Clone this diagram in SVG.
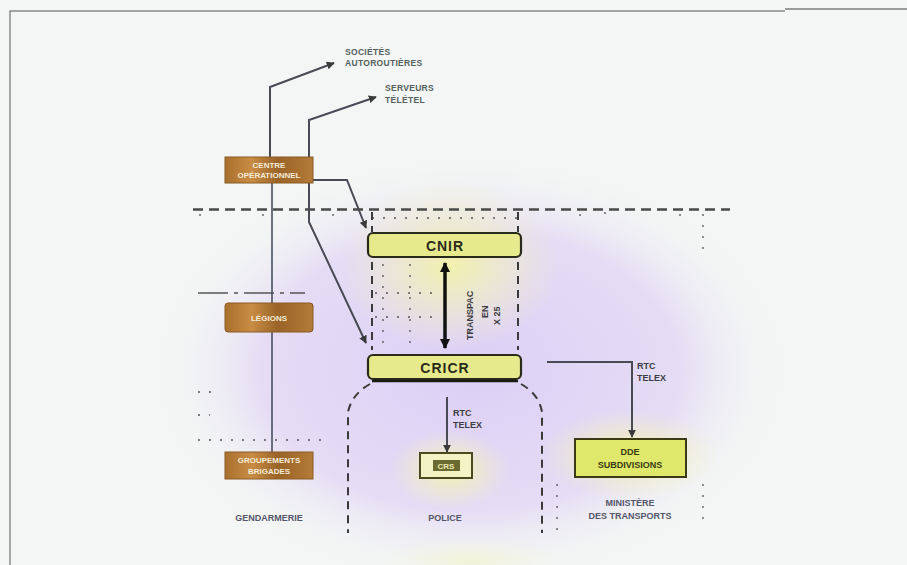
<svg xmlns="http://www.w3.org/2000/svg" width="907" height="565" viewBox="0 0 907 565">
<defs>
<radialGradient id="lav" cx="50%" cy="50%" r="50%">
<stop offset="0" stop-color="#dccff6" stop-opacity="1"/>
<stop offset="0.65" stop-color="#e3d9f5" stop-opacity="0.9"/>
<stop offset="1" stop-color="#f4f6f4" stop-opacity="0"/>
</radialGradient>
<radialGradient id="yel" cx="50%" cy="50%" r="50%">
<stop offset="0" stop-color="#f2f2a8" stop-opacity="0.95"/>
<stop offset="1" stop-color="#f4f4c0" stop-opacity="0"/>
</radialGradient>
<linearGradient id="orange" x1="0" y1="0" x2="1" y2="0">
<stop offset="0" stop-color="#a8702e"/>
<stop offset="0.3" stop-color="#c98c44"/>
<stop offset="0.6" stop-color="#9a6428"/>
<stop offset="1" stop-color="#b37a38"/>
</linearGradient>
<marker id="arr" viewBox="0 0 10 10" refX="9" refY="5" markerWidth="4" markerHeight="4" orient="auto-start-reverse">
<path d="M0,0 L10,5 L0,10 z" fill="#3a3a3a"/>
</marker>
<marker id="arrb" viewBox="0 0 10 10" refX="9" refY="5" markerWidth="3" markerHeight="3" orient="auto-start-reverse">
<path d="M0,0 L10,5 L0,10 z" fill="#111"/>
</marker>
</defs>
<style>
.lbl{font-family:"Liberation Sans",Arial,sans-serif;font-size:8.5px;font-weight:bold;fill:#556060;letter-spacing:0.3px}
.lbd{font-family:"Liberation Sans",Arial,sans-serif;font-size:9px;font-weight:bold;fill:#3c3c44}
.rl{fill:#56566a}
.otx{font-family:"Liberation Sans",Arial,sans-serif;font-size:8px;font-weight:bold;fill:#f4ecd8}
.ytx{font-family:"Liberation Sans",Arial,sans-serif;font-size:14px;font-weight:bold;fill:#2a2a1a;letter-spacing:1px}
.stx{font-family:"Liberation Sans",Arial,sans-serif;font-size:9px;font-weight:bold;fill:#3a3a10}
.obox{fill:url(#orange);stroke:#8a5a22;stroke-width:1}
.ybox{fill:#e6ea8c;stroke:#2a2a1a;stroke-width:2.2}
.ln{fill:none;stroke:#4a4a55;stroke-width:2}
.thin{fill:none;stroke:#4a5060;stroke-width:1.6}
.dash{fill:none;stroke:#4a4a4a;stroke-width:2.5;stroke-dasharray:10 6}
.bd{fill:none;stroke:#3a3a3a;stroke-width:2;stroke-dasharray:8 6}
.dot{fill:none;stroke:#555;stroke-width:1.3;stroke-dasharray:2 9}
.frame{fill:none;stroke:#8a8a8a;stroke-width:1.5}
</style>
<rect x="0" y="0" width="907" height="565" fill="#f3f6f4"/>
<ellipse cx="470" cy="370" rx="320" ry="215" fill="url(#lav)"/>
<ellipse cx="450" cy="265" rx="110" ry="85" fill="url(#yel)"/>
<ellipse cx="630" cy="455" rx="90" ry="45" fill="url(#yel)"/>
<ellipse cx="450" cy="470" rx="60" ry="40" fill="url(#yel)"/>
<ellipse cx="470" cy="560" rx="90" ry="22" fill="url(#yel)" opacity="0.4"/>

<g id="frame">
<path class="frame" d="M10,565 V11 H785"/>
<path d="M785,9 H907" stroke="#9a9a9a" stroke-width="2" fill="none"/>
</g>

<g id="boundaries">
<path class="dash" d="M193,209.5 H730"/>
<path class="dot" d="M372,218 H518"/>
<path class="bd" d="M372,212 V232 M518,212 V232"/>
<path class="bd" d="M372,262 V350 M518,262 V350"/>
<path class="dot" d="M383,264 V345 M410,264 V345 M375,293 H440 M375,317 H440"/>
<path class="dot" d="M200,214 V222 M263,214 V222 M333,214 V222 M580,214 V222 M605,212 V222 M680,214 V222 M703,214 V256"/>
<path fill="none" stroke="#555" stroke-width="1.4" stroke-dasharray="30 6 4 6" d="M198,293 H305"/>
<path class="dot" d="M198,392 H220 M198,415 H210 M198,440 H330"/>
<path class="bd" d="M370,384 Q352,394 348,412 V533"/>
<path class="bd" d="M521,384 Q539,394 542,412 V533"/>
<path class="dot" d="M557,484 V538 M703,484 V520"/>
</g>

<g id="connectors">
<path class="ln" d="M270,157 V87 L334,63" marker-end="url(#arr)"/>
<path class="ln" d="M366,343 L309,222 V120 L376,97" marker-start="url(#arr)" marker-end="url(#arr)"/>
<path class="ln" d="M313,180 H347 L366,228" marker-end="url(#arr)"/>
<path class="thin" d="M272,183 V303"/>
<path class="thin" d="M272,332 V452"/>
<path fill="none" stroke="#111" stroke-width="3.5" d="M445,263 V348" marker-start="url(#arrb)" marker-end="url(#arrb)"/>
<path class="ln" d="M447,397 V452" marker-end="url(#arr)"/>
<path class="ln" d="M547,362 H632 V437" marker-end="url(#arr)"/>
</g>

<g id="label-societes">
<text class="lbl" x="345" y="55">SOCIÉTÉS</text>
<text class="lbl" x="345" y="66">AUTOROUTIÈRES</text>
</g>
<g id="label-serveurs">
<text class="lbl" x="385" y="91">SERVEURS</text>
<text class="lbl" x="385" y="103">TÉLÉTEL</text>
</g>

<g id="node-centre">
<rect class="obox" x="225" y="157" width="88" height="26"/>
<text class="otx" x="269" y="168" text-anchor="middle">CENTRE</text>
<text class="otx" x="269" y="178" text-anchor="middle">OPÉRATIONNEL</text>
</g>
<g id="node-legions">
<rect class="obox" x="225" y="303" width="88" height="29" rx="3"/>
<text class="otx" x="269" y="321" text-anchor="middle">LÉGIONS</text>
</g>
<g id="node-brigades">
<rect class="obox" x="225" y="452" width="88" height="27"/>
<text class="otx" x="269" y="463" text-anchor="middle">GROUPEMENTS</text>
<text class="otx" x="269" y="474" text-anchor="middle">BRIGADES</text>
</g>

<g id="node-cnir">
<rect class="ybox" x="368" y="233" width="153" height="24" rx="5"/>
<text class="ytx" x="445" y="251" text-anchor="middle">CNIR</text>
</g>
<g id="node-cricr">
<rect class="ybox" x="368" y="355" width="153" height="24" rx="5"/>
<path d="M372,381 H518" stroke="#1a1a10" stroke-width="2.5"/>
<text class="ytx" x="445" y="373" text-anchor="middle">CRICR</text>
</g>

<g id="label-transpac">
<text class="lbd" transform="translate(473,340) rotate(-90)">TRANSPAC</text>
<text class="lbd" transform="translate(488,318) rotate(-90)">EN</text>
<text class="lbd" transform="translate(500,325) rotate(-90)">X 25</text>
</g>

<g id="label-rtc1">
<text class="lbd" x="453" y="416">RTC</text>
<text class="lbd" x="453" y="428">TELEX</text>
</g>
<g id="node-crs">
<rect x="420" y="453" width="52" height="25" fill="#f2f2c4" stroke="#4a4a20" stroke-width="2"/>
<rect x="433" y="460" width="27" height="11" fill="#6a6a30"/>
<text class="stx" x="446" y="469" text-anchor="middle" style="fill:#e8e8b0;font-size:8px">CRS</text>
</g>

<g id="label-rtc2">
<text class="lbd" x="637" y="369">RTC</text>
<text class="lbd" x="637" y="381">TELEX</text>
</g>
<g id="node-dde">
<rect x="575" y="439" width="111" height="38" fill="#dfe86a" stroke="#3a3a14" stroke-width="2"/>
<text class="stx" x="630" y="455" text-anchor="middle">DDE</text>
<text class="stx" x="630" y="468" text-anchor="middle">SUBDIVISIONS</text>
</g>

<g id="region-labels">
<text class="lbd rl" x="269" y="521" text-anchor="middle">GENDARMERIE</text>
<text class="lbd rl" x="445" y="521" text-anchor="middle">POLICE</text>
<text class="lbd rl" x="630" y="506" text-anchor="middle">MINISTÈRE</text>
<text class="lbd rl" x="630" y="519" text-anchor="middle">DES TRANSPORTS</text>
</g>
</svg>
